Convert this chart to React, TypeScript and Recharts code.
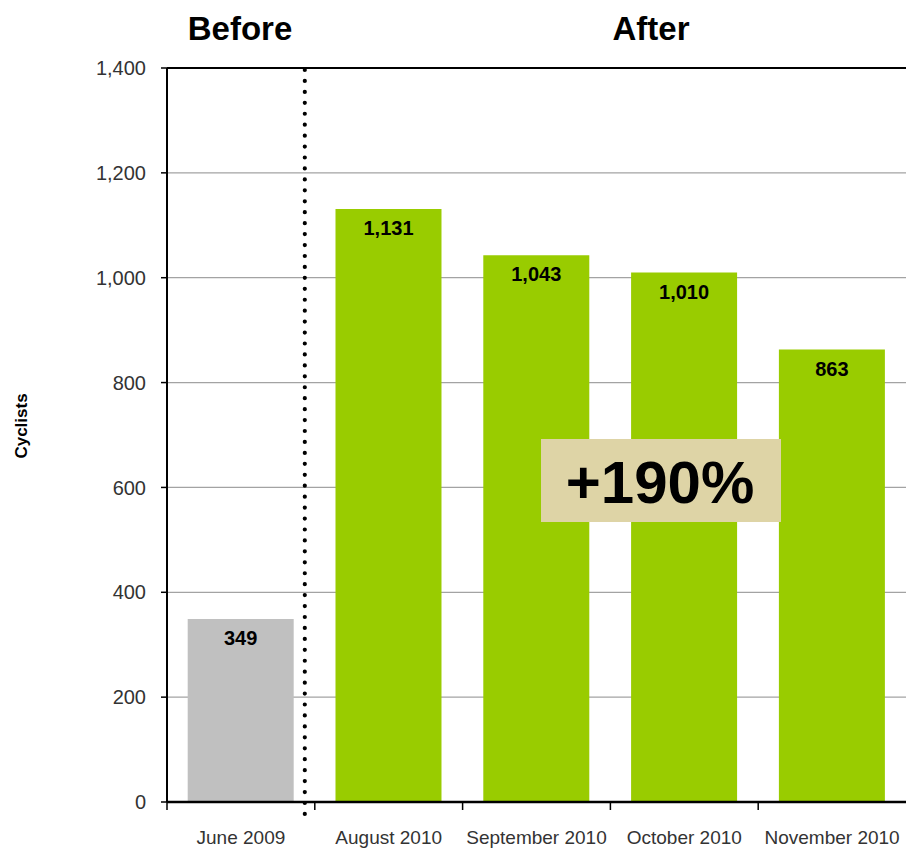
import { BarChart, Bar, Cell, XAxis, YAxis, CartesianGrid, ReferenceLine, LabelList } from 'recharts';

// ─── data ─────────────────────────────────────────────────────────────────────

const MONTHS = ['June 2009', 'August 2010', 'September 2010', 'October 2010', 'November 2010'];
const CYCLISTS = [349, 1131, 1043, 1010, 863];
const PERIOD = ['before', 'after', 'after', 'after', 'after'];
const Y_TICKS = [0, 200, 400, 600, 800, 1000, 1200, 1400];
const CHANGE_LABEL = '+190%';

// ─── style ────────────────────────────────────────────────────────────────────

const W = 906;
const H = 849;
const PLOT_LEFT = 167;
const HALF_BAND = (W - PLOT_LEFT) / MONTHS.length / 2;
const FONT = '"Liberation Sans", Arial, sans-serif';
const COLORS: Record<string, string> = { before: '#c0c0c0', after: '#99cc00' };

const chartData = MONTHS.map((m, i) => ({ name: m, value: CYCLISTS[i], period: PERIOD[i] }));

const fmt = (v: number) => v.toLocaleString('en-US');

// month label centred under the bar, tick mark on the band's left edge
function MonthTick(props: any) {
  const { x, y, payload } = props;
  const edge = x - HALF_BAND;
  return (
    <g>
      <line x1={edge} y1={y} x2={edge} y2={y + 8} stroke="#000" strokeWidth={1.5} />
      <text x={x} y={y + 42} textAnchor="middle" fontSize={19} fill="#333" fontFamily={FONT}>
        {payload.value}
      </text>
    </g>
  );
}

function DottedDivider(props: any) {
  const top = Math.min(props.y1, props.y2);
  const bottom = Math.max(props.y1, props.y2);
  return (
    <line
      x1={props.x1 - 10} y1={top + 2} x2={props.x2 - 10} y2={bottom + 13}
      stroke="#000" strokeWidth={4.2} strokeLinecap="round" strokeDasharray="0 10.94"
    />
  );
}

export default function App() {
  return (
    <div style={{ position: 'relative', width: W, height: H, overflow: 'hidden', background: '#fff' }}>
      <style>{'body{margin:0}'}</style>
      <BarChart
        width={W}
        height={H}
        data={chartData}
        margin={{ top: 68, right: 0, bottom: 0, left: 0 }}
        barCategoryGap="14%"
      >
        <CartesianGrid vertical={false} stroke="#a3a3a3" strokeWidth={1.2} />
        <XAxis
          dataKey="name"
          axisLine={{ stroke: '#000', strokeWidth: 2.5 }}
          tickLine={false}
          tickSize={0}
          tickMargin={0}
          tick={<MonthTick />}
          interval={0}
          height={47}
        />
        <YAxis
          width={PLOT_LEFT}
          domain={[0, 1400]}
          ticks={Y_TICKS}
          tickFormatter={fmt}
          axisLine={{ stroke: '#000', strokeWidth: 2 }}
          tickLine={{ stroke: '#000', strokeWidth: 1.5 }}
          tickSize={6}
          tickMargin={15}
          tick={{ fontSize: 20, fill: '#333', fontFamily: FONT }}
        />
        <ReferenceLine y={1400} stroke="#000" strokeWidth={2} />
        <Bar dataKey="value" isAnimationActive={false}>
          {chartData.map((d, i) => (
            <Cell key={i} fill={COLORS[d.period]} />
          ))}
          <LabelList
            dataKey="value"
            position="insideTop"
            offset={12}
            formatter={(v: any) => fmt(Number(v))}
            style={{ fontSize: 20, fontWeight: 700, fill: '#000', fontFamily: FONT }}
          />
        </Bar>
        <ReferenceLine x={MONTHS[0]} position="end" shape={<DottedDivider />} />
      </BarChart>

      <svg width={W} height={H} style={{ position: 'absolute', left: 0, top: 0, pointerEvents: 'none' }}>
        <text x={240} y={40} textAnchor="middle" fontSize={33} fontWeight={700} fontFamily={FONT} fill="#000">
          Before
        </text>
        <text x={651} y={40} textAnchor="middle" fontSize={33} fontWeight={700} fontFamily={FONT} fill="#000">
          After
        </text>
        <text
          x={27} y={426} textAnchor="middle" fontSize={17} fontWeight={700} fontFamily={FONT} fill="#000"
          transform="rotate(-90 27 426)"
        >
          Cyclists
        </text>
        <rect x={541} y={439} width={240} height={83} fill="#ded4a6" />
        <text x={660} y={503} textAnchor="middle" fontSize={60} fontWeight={700} fontFamily={FONT} fill="#000">
          {CHANGE_LABEL}
        </text>
      </svg>
    </div>
  );
}
